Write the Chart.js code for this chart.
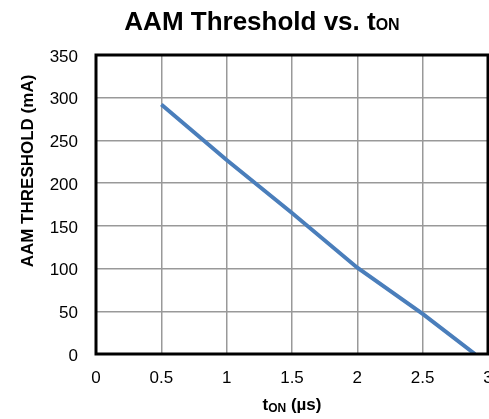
<!DOCTYPE html>
<html>
<head>
<meta charset="utf-8">
<script src="https://cdn.jsdelivr.net/npm/chart.js@4"></script>
<style>
  html, body { margin: 0; padding: 0; background: #fff; }
  canvas { display: block; }
</style>
</head>
<body>
<canvas id="aamChart" width="489" height="419"></canvas>
<script>
// t_ON (us) and AAM threshold (mA)
const tOn = [0.5, 1, 1.5, 2, 2.5, 2.9];
const threshold = [292, 227, 165, 101, 47, 0];
const xTicks = [0, 3, 0.5];      // min, max, step
const yTicks = [0, 350, 50];

// draws the title, axis titles (with subscripts) and the plot frame
const textPlugin = {
    id: 'textPlugin',
    afterDraw: function (chart) {
        const ctx = chart.ctx;
        const area = chart.chartArea;
        ctx.save();

        ctx.strokeStyle = '#000';
        ctx.lineWidth = 3;
        ctx.strokeRect(area.left, area.top, area.right - area.left, area.bottom - area.top);

        ctx.fillStyle = '#000';
        ctx.textBaseline = 'alphabetic';
        ctx.textAlign = 'left';

        // chart title
        const big = 'bold 26px "Liberation Sans", Arial, sans-serif';
        const small = 'bold 16px "Liberation Sans", Arial, sans-serif';
        ctx.font = big;
        const w1 = ctx.measureText('AAM Threshold vs. t').width;
        ctx.font = small;
        const w2 = ctx.measureText('ON').width;
        let x = 262 - (w1 + w2) / 2;
        ctx.font = big;
        ctx.fillText('AAM Threshold vs. t', x, 30);
        ctx.font = small;
        ctx.fillText('ON', x + w1, 30);

        // x axis title
        const xb = 'bold 17px "Liberation Sans", Arial, sans-serif';
        const xs = 'bold 12px "Liberation Sans", Arial, sans-serif';
        ctx.font = xb;
        const a = ctx.measureText('t').width;
        const c = ctx.measureText(' (µs)').width;
        ctx.font = xs;
        const b = ctx.measureText('ON').width;
        x = 292 - (a + b + c) / 2;
        ctx.font = xb;
        ctx.fillText('t', x, 410);
        ctx.font = xs;
        ctx.fillText('ON', x + a, 412);
        ctx.font = xb;
        ctx.fillText(' (µs)', x + a + b, 410);

        // y axis title
        ctx.translate(33, 171);
        ctx.rotate(-Math.PI / 2);
        ctx.textAlign = 'center';
        ctx.font = xb;
        ctx.fillText('AAM THRESHOLD (mA)', 0, 0);

        ctx.restore();
    }
};

const ctx = document.getElementById('aamChart').getContext('2d');

new Chart(ctx, {
    type: 'line',
    data: {
        datasets: [{
            label: 'AAM Threshold',
            data: tOn.map((t, i) => ({ x: t, y: threshold[i] })),
            borderColor: '#4a7ebb',
            borderWidth: 4,
            pointRadius: 0,
            fill: false,
            tension: 0
        }]
    },
    options: {
        responsive: false,
        animation: false,
        layout: {
            padding: { top: 55, left: 0, right: 1, bottom: 0 }
        },
        plugins: {
            legend: { display: false },
            title: { display: false },
            tooltip: { enabled: false }
        },
        scales: {
            x: {
                type: 'linear',
                min: xTicks[0],
                max: xTicks[1],
                afterFit: function (scale) {
                    scale.height = 65;
                    scale.paddingRight = 0;
                },
                ticks: {
                    stepSize: xTicks[2],
                    color: '#000',
                    padding: 14,
                    maxRotation: 0,
                    callback: value => String(Number(value)),
                    font: { family: '"Liberation Sans", Arial, sans-serif', size: 17 }
                },
                grid: { color: '#999', lineWidth: 1.5, drawTicks: false },
                border: { display: false }
            },
            y: {
                min: yTicks[0],
                max: yTicks[1],
                afterFit: function (scale) {
                    scale.width = 96;
                },
                ticks: {
                    stepSize: yTicks[2],
                    color: '#000',
                    padding: 18,
                    labelOffset: 2,
                    font: { family: '"Liberation Sans", Arial, sans-serif', size: 17 }
                },
                grid: { color: '#999', lineWidth: 1.5, drawTicks: false },
                border: { display: false }
            }
        }
    },
    plugins: [textPlugin]
});
</script>
</body>
</html>
